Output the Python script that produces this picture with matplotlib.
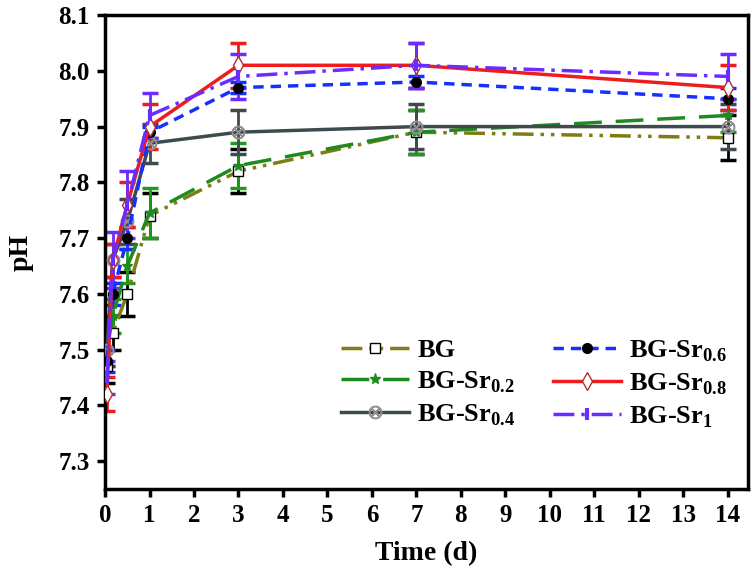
import numpy as np
import matplotlib.pyplot as plt

# sampling times (d)
t = [0.04, 0.17, 0.5, 1, 3, 7, 14]

# pH values
ph_bg = [7.47, 7.53, 7.60, 7.74, 7.82, 7.89, 7.88]
ph_sr02 = [7.50, 7.56, 7.65, 7.745, 7.83, 7.89, 7.92]
ph_sr04 = [7.50, 7.66, 7.73, 7.87, 7.89, 7.90, 7.90]
ph_sr06 = [7.48, 7.60, 7.70, 7.89, 7.97, 7.98, 7.95]
ph_sr08 = [7.42, 7.66, 7.76, 7.90, 8.01, 8.01, 7.97]
ph_sr1 = [7.45, 7.66, 7.76, 7.92, 7.99, 8.01, 7.99]

# standard deviations
err_bg = [0.03, 0.03, 0.04, 0.04, 0.04, 0.04, 0.04]
err_sr02 = [0.03, 0.03, 0.03, 0.045, 0.04, 0.04, 0.03]
err_sr04 = [0.03, 0.03, 0.04, 0.035, 0.04, 0.04, 0.04]
err_sr06 = [0.02, 0.02, 0.02, 0.01, 0.01, 0.01, 0.02]
err_sr08 = [0.03, 0.03, 0.04, 0.04, 0.04, 0.04, 0.04]
err_sr1 = [0.03, 0.05, 0.06, 0.04, 0.04, 0.04, 0.04]

labels = ['BG', r'BG-Sr$_{\mathbf{0.2}}$', r'BG-Sr$_{\mathbf{0.4}}$',
          r'BG-Sr$_{\mathbf{0.6}}$', r'BG-Sr$_{\mathbf{0.8}}$', r'BG-Sr$_{\mathbf{1}}$']

plt.rcParams['font.family'] = ['Liberation Serif', 'DejaVu Serif']
plt.rcParams['font.weight'] = 'bold'
plt.rcParams['mathtext.fontset'] = 'custom'
plt.rcParams['mathtext.bf'] = 'Liberation Serif:bold'
plt.rcParams['mathtext.rm'] = 'Liberation Serif:bold'

fig = plt.figure(figsize=(7.56, 5.82), dpi=100)
ax = fig.add_axes([0.139, 0.160, 0.850, 0.814])

series = [
    (ph_bg, err_bg, dict(color='#7d7d14', ls=(0, (6, 2, 1, 2, 1, 2)), marker='s', mfc='white', mec='black', ms=7), 'black'),
    (ph_sr02, err_sr02, dict(color='#1f8a1f', ls=(0, (8, 4)), marker='*', mfc='#1f8a1f', mec='#1f8a1f', ms=8), '#1f9a1f'),
    (ph_sr04, err_sr04, dict(color='#3f4a4f', ls='-', marker='$\\otimes$', mfc='#909090', mec='#909090', ms=9), '#3f4a4f'),
    (ph_sr06, err_sr06, dict(color='#1530ff', ls=(0, (3, 2)), marker='o', mfc='black', mec='black', ms=7), '#1530ff'),
    (ph_sr08, err_sr08, dict(color='#ee1c1c', ls='-', marker='d', mfc='white', mec='#b03030', ms=9), '#ee1c1c'),
    (ph_sr1, err_sr1, dict(color='#6a2cff', ls=(0, (6, 2, 1, 2)), marker='|', mfc='#6a2cff', mec='#6a2cff', ms=8, mew=3), '#6a2cff'),
]

handles = []
for (y, e, st, ecol), lab in zip(series, labels):
    ax.errorbar(t, y, yerr=e, fmt='none', ecolor=ecol, elinewidth=2, capsize=6, capthick=2.5, zorder=2)
    h, = ax.plot(t, y, lw=2.5, label=lab, zorder=3, **st)
    handles.append(h)

ax.set_xlim(0, 14.45)
ax.set_ylim(7.25, 8.1)
ax.set_xticks(range(0, 15))
ax.set_yticks(np.arange(7.3, 8.11, 0.1))
ax.set_yticklabels(['%.1f' % v for v in np.arange(7.3, 8.11, 0.1)])
ax.tick_params(direction='out', length=6, width=2.5, labelsize=18, pad=5)
for s in ax.spines.values():
    s.set_linewidth(2.5)

ax.set_xlabel('Time (d)', fontsize=20, fontweight='bold', labelpad=10)
ax.set_ylabel('pH', fontsize=20, fontweight='bold', labelpad=18)

ax.legend(handles=handles, ncol=2, loc='lower right', bbox_to_anchor=(1.005, 0.075),
          frameon=False, fontsize=19, handlelength=2.6, columnspacing=1.4,
          labelspacing=0.28, handletextpad=0.3)

fig.savefig('out.png', dpi=100)
